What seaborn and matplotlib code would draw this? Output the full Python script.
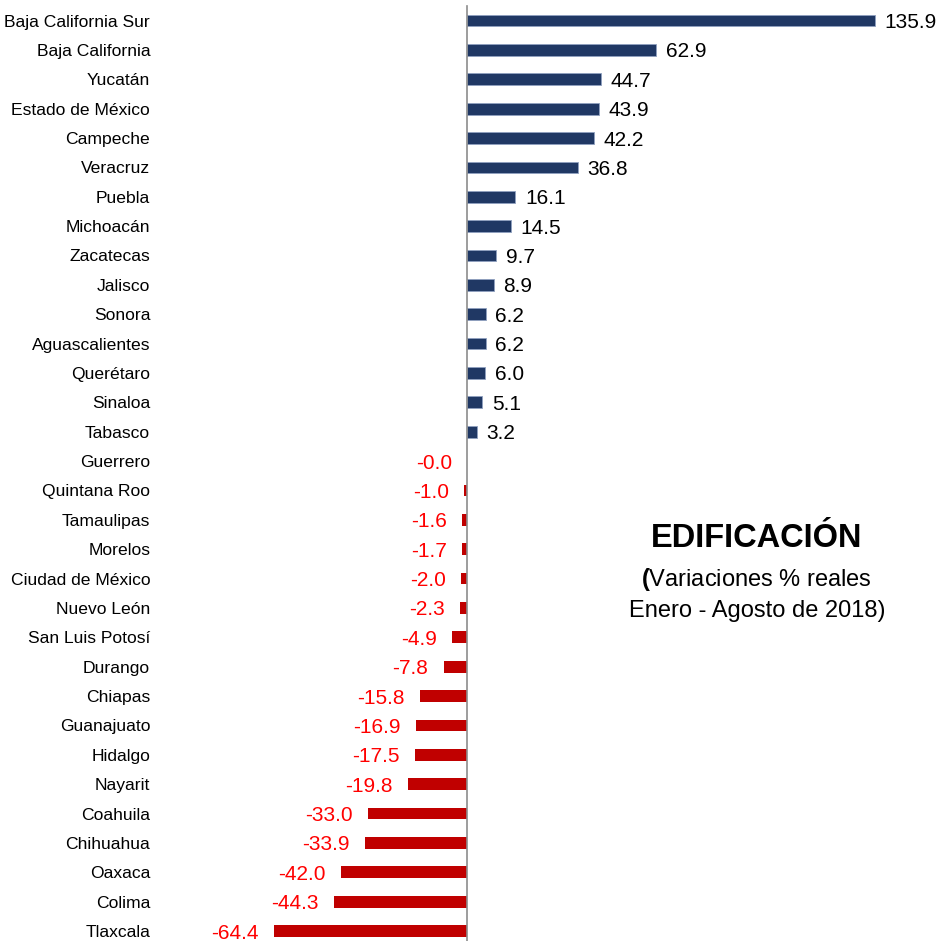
import matplotlib
matplotlib.use("Agg")
import matplotlib.pyplot as plt
from matplotlib.transforms import blended_transform_factory
import seaborn as sns
import pandas as pd

estados = [
    "Baja California Sur", "Baja California", "Yucatán", "Estado de México",
    "Campeche", "Veracruz", "Puebla", "Michoacán", "Zacatecas", "Jalisco",
    "Sonora", "Aguascalientes", "Querétaro", "Sinaloa", "Tabasco", "Guerrero",
    "Quintana Roo", "Tamaulipas", "Morelos", "Ciudad de México", "Nuevo León",
    "San Luis Potosí", "Durango", "Chiapas", "Guanajuato", "Hidalgo", "Nayarit",
    "Coahuila", "Chihuahua", "Oaxaca", "Colima", "Tlaxcala",
]
variacion = [
    135.9, 62.9, 44.7, 43.9, 42.2, 36.8, 16.1, 14.5, 9.7, 8.9,
    6.2, 6.2, 6.0, 5.1, 3.2, -0.0,
    -1.0, -1.6, -1.7, -2.0, -2.3, -4.9, -7.8, -15.8, -16.9, -17.5,
    -19.8, -33.0, -33.9, -42.0, -44.3, -64.4,
]
etiquetas = [
    "135.9", "62.9", "44.7", "43.9", "42.2", "36.8", "16.1", "14.5", "9.7", "8.9",
    "6.2", "6.2", "6.0", "5.1", "3.2", "-0.0",
    "-1.0", "-1.6", "-1.7", "-2.0", "-2.3", "-4.9", "-7.8", "-15.8", "-16.9", "-17.5",
    "-19.8", "-33.0", "-33.9", "-42.0", "-44.3", "-64.4",
]
titulo = "EDIFICACIÓN"
subtitulo_1 = r"$\mathbf{(}$Variaciones % reales"
subtitulo_2 = "Enero - Agosto de 2018)"

AZUL = "#203864"
ROJO = "#C00000"
ROJO_TEXTO = "#FF0000"

sns.set_style("white")
plt.rcParams["font.family"] = ["Liberation Sans", "DejaVu Sans"]
plt.rcParams["mathtext.fontset"] = "custom"
plt.rcParams["mathtext.rm"] = "Liberation Sans"
plt.rcParams["mathtext.bf"] = "Liberation Sans:bold"

df = pd.DataFrame({
    "estado": estados,
    "variacion": variacion,
    "signo": ["pos" if v > 0 else "neg" for v in variacion],
})

fig = plt.figure(figsize=(9.39, 9.41), dpi=100)
ax = fig.add_axes([0.0, -0.005, 1.0, 0.9988])

sns.barplot(
    data=df, x="variacion", y="estado", hue="signo", order=estados,
    palette={"pos": AZUL, "neg": ROJO}, dodge=False, width=0.4,
    saturation=1, legend=False, ax=ax, orient="h",
)
for patch in ax.patches:
    fc = patch.get_facecolor()
    if fc[2] > fc[0]:
        patch.set_edgecolor("#8FA0C0")
        patch.set_linewidth(0.6)
    else:
        patch.set_edgecolor("none")

ax.set_xlim(-155.7, 157.3)
ax.set_ylim(len(estados) - 0.5, -0.5)

for side in ["top", "right", "bottom"]:
    ax.spines[side].set_visible(False)
ax.spines["left"].set_position(("data", 0))
ax.spines["left"].set_color("#8C8C8C")
ax.spines["left"].set_linewidth(1.2)
ax.set_xticks([])
ax.set_yticks([i - 0.5 for i in range(len(estados) + 1)])
ax.set_yticklabels([])
ax.tick_params(axis="y", direction="out", length=5, width=1.0, color="#8C8C8C")
ax.set_xlabel("")
ax.set_ylabel("")

# category names aligned at the left margin
trans = blended_transform_factory(ax.transAxes, ax.transData)
for i, nombre in enumerate(estados):
    ax.text(0.16, i, nombre, transform=trans, ha="right", va="center_baseline",
            fontsize=12.6, color="black")

# value labels beside each bar
for i, (v, lab) in enumerate(zip(variacion, etiquetas)):
    if v > 0:
        ax.annotate(lab, (v, i), xytext=(7, 0), textcoords="offset points",
                    ha="left", va="center_baseline", fontsize=15, color="black")
    else:
        ax.annotate(lab, (v, i), xytext=(-11, 0), textcoords="offset points",
                    ha="right", va="center_baseline", fontsize=15, color=ROJO_TEXTO)

fig.text(0.806, 0.428, titulo, ha="center", va="center", fontsize=23.5,
         fontweight="bold", color="black")
fig.text(0.806, 0.384, subtitulo_1, ha="center", va="center", fontsize=17,
         color="black")
fig.text(0.806, 0.351, subtitulo_2, ha="center", va="center", fontsize=17,
         color="black")

fig.savefig("out.png", dpi=100)
